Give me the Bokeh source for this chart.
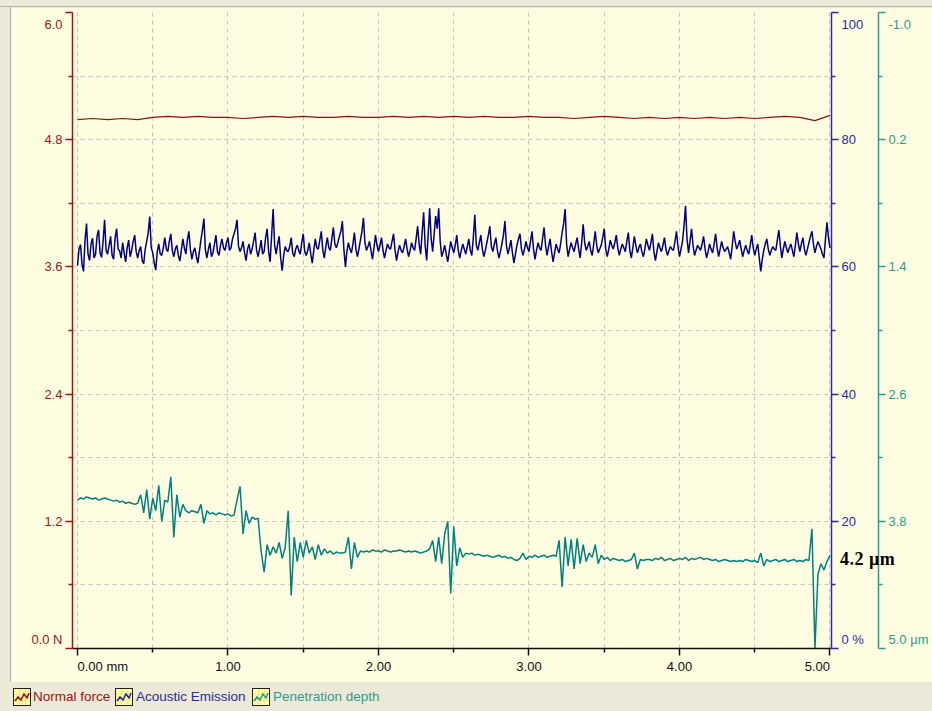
import numpy as np
from bokeh.plotting import figure
from bokeh.models import Range1d, LinearAxis, FixedTicker, PrintfTickFormatter, Div, Grid
from bokeh.layouts import column, row
from bokeh.embed import file_html
from bokeh.resources import INLINE

# ---------------- data ----------------
# Normal force [N], sampled every 0.1 mm over 0..5 mm
normal_force = [
    4.99, 5.00, 4.99, 5.00, 4.99, 5.01, 5.02, 5.01, 5.02, 5.01,
    5.01, 5.00, 5.01, 5.02, 5.01, 5.02, 5.01, 5.01, 5.02, 5.01,
    5.01, 5.02, 5.01, 5.02, 5.01, 5.02, 5.01, 5.02, 5.01, 5.01,
    5.02, 5.01, 5.01, 5.00, 5.01, 5.02, 5.01, 5.00, 5.01, 5.00,
    5.01, 5.00, 5.01, 5.00, 5.01, 5.00, 5.01, 5.02, 5.01, 4.98, 5.03,
]
# Acoustic emission [%], sampled every 0.01 mm
acoustic_emission = [
    60.2, 62.8, 63.5, 60.4, 59.3, 64.2, 66.8, 62.0, 61.0, 63.6, 64.5, 61.4, 62.0, 64.8, 65.8, 62.2, 61.5, 64.0, 67.4, 62.6,
    62.0, 63.4, 64.8, 61.8, 61.2, 64.6, 66.0, 62.8, 62.5, 61.4, 63.8, 62.2, 60.8, 63.0, 64.2, 61.6, 62.6, 64.0, 65.0, 62.4,
    61.4, 62.6, 63.2, 61.0, 60.5, 62.8, 64.0, 65.4, 67.9, 63.0, 62.2, 60.6, 59.5, 62.4, 63.6, 62.0, 61.8, 63.0, 64.6, 62.8,
    62.4, 64.0, 65.2, 62.6, 61.6, 62.8, 63.4, 61.8, 60.9, 62.6, 64.4, 63.0, 62.0, 64.2, 65.6, 62.8, 61.2, 62.4, 63.0, 61.6,
    60.6, 62.4, 64.2, 65.8, 67.6, 62.6, 61.4, 62.8, 63.8, 61.6, 62.2, 63.6, 65.0, 62.4, 61.8, 63.4, 64.4, 63.0, 62.6, 63.8,
    64.6, 62.6, 63.0, 64.4, 65.2, 66.0, 67.4, 63.2, 62.4, 63.0, 64.0, 62.2, 61.0, 62.8, 63.6, 62.0, 62.8, 64.0, 65.4, 62.6,
    61.6, 62.8, 64.2, 62.0, 62.4, 64.6, 66.0, 62.4, 60.8, 65.0, 69.1, 63.4, 62.0, 63.6, 64.8, 61.4, 59.4, 61.8, 63.2, 62.6,
    62.4, 63.2, 64.6, 62.2, 61.6, 62.8, 63.4, 62.6, 62.0, 63.8, 65.2, 62.4, 61.8, 62.6, 63.8, 62.0, 60.6, 62.6, 64.4, 63.0,
    62.8, 64.2, 65.6, 62.6, 61.4, 63.2, 64.6, 63.0, 62.6, 64.4, 66.2, 63.6, 63.0, 63.8, 64.8, 65.6, 67.2, 62.8, 60.0, 62.4,
    63.8, 62.8, 62.2, 63.6, 65.4, 62.8, 61.6, 62.8, 64.2, 65.6, 67.7, 63.8, 62.6, 63.2, 64.0, 62.6, 61.2, 63.0, 65.0, 63.4,
    62.4, 63.4, 64.6, 62.6, 61.4, 62.6, 63.6, 63.0, 62.8, 64.0, 65.2, 62.6, 61.0, 62.4, 63.4, 62.6, 62.2, 63.2, 64.4, 62.8,
    61.6, 62.6, 63.8, 63.0, 62.6, 64.4, 66.4, 63.6, 62.0, 65.4, 68.6, 63.4, 61.0, 65.0, 69.2, 64.4, 62.4, 65.2, 68.0, 66.0,
    69.2, 64.0, 61.6, 62.4, 63.4, 62.0, 60.8, 62.4, 64.0, 63.0, 62.2, 63.4, 65.0, 62.6, 61.4, 62.6, 63.6, 62.8, 62.0, 63.2,
    64.4, 62.6, 61.8, 64.6, 68.2, 63.4, 62.6, 63.8, 65.0, 62.8, 61.6, 62.6, 63.8, 65.0, 66.4, 63.2, 62.4, 63.6, 64.6, 62.6,
    61.4, 62.4, 63.6, 65.0, 67.2, 63.4, 62.0, 63.0, 64.2, 62.2, 60.6, 62.0, 63.4, 64.4, 65.2, 62.8, 61.8, 62.8, 64.0, 63.0,
    62.4, 64.0, 65.6, 62.8, 61.2, 62.6, 63.8, 63.0, 62.6, 64.4, 66.2, 63.4, 61.8, 63.2, 64.4, 62.4, 60.8, 62.2, 63.6, 62.8,
    62.2, 63.6, 65.4, 66.8, 69.1, 63.6, 61.6, 62.8, 63.8, 63.0, 62.4, 63.6, 64.6, 62.8, 61.4, 63.8, 66.7, 63.8, 62.6, 63.2,
    64.0, 62.6, 61.8, 63.6, 65.6, 63.4, 62.2, 62.8, 63.4, 64.6, 66.0, 62.8, 61.6, 62.8, 64.2, 63.4, 62.8, 63.8, 65.0, 63.0,
    61.8, 62.8, 63.6, 63.0, 62.4, 64.0, 65.4, 62.6, 61.4, 63.0, 64.8, 63.4, 62.2, 63.0, 63.6, 62.4, 61.6, 62.8, 64.4, 63.4,
    62.6, 63.8, 65.2, 62.4, 61.0, 62.4, 63.8, 63.0, 62.4, 63.4, 64.6, 62.8, 61.8, 62.6, 63.2, 62.8, 62.6, 64.0, 65.6, 63.2,
    61.6, 62.8, 64.0, 66.4, 69.6, 64.4, 62.2, 64.0, 66.0, 63.4, 61.8, 62.6, 63.4, 63.0, 62.6, 63.6, 64.8, 62.8, 61.4, 62.4,
    63.6, 62.8, 62.2, 63.6, 65.2, 63.0, 61.6, 62.8, 64.0, 63.0, 62.4, 62.8, 63.2, 62.2, 61.2, 63.2, 65.6, 64.0, 62.8, 63.4,
    64.2, 62.8, 61.6, 62.6, 63.4, 62.6, 62.0, 63.4, 65.0, 63.0, 61.8, 62.8, 63.6, 61.4, 59.3, 61.2, 62.6, 63.6, 64.4, 62.8,
    61.8, 62.6, 63.2, 62.8, 62.6, 64.2, 65.8, 63.4, 61.4, 62.8, 64.0, 63.0, 62.2, 63.0, 63.6, 62.6, 61.6, 63.4, 65.4, 63.6,
    62.4, 63.6, 64.6, 62.8, 61.8, 62.8, 63.8, 64.8, 65.6, 63.6, 62.2, 63.2, 64.0, 63.4, 62.8, 62.0, 61.4, 64.4, 67.0, 64.6,
    63.0,
]
# Penetration depth [um], sampled every 0.02 mm
penetration_depth = [
    3.60, 3.58, 3.59, 3.57, 3.58, 3.59, 3.58, 3.60, 3.59, 3.58,
    3.59, 3.60, 3.61, 3.60, 3.62, 3.61, 3.63, 3.62, 3.63, 3.64,
    3.63, 3.55, 3.72, 3.50, 3.78, 3.58, 3.70, 3.46, 3.80, 3.60,
    3.62, 3.38, 3.95, 3.55, 3.76, 3.64, 3.70, 3.72, 3.70, 3.71,
    3.72, 3.64, 3.82, 3.70, 3.73, 3.72, 3.74, 3.72, 3.73, 3.74,
    3.73, 3.75, 3.74, 3.60, 3.47, 3.92, 3.70, 3.82, 3.76, 3.78,
    3.77, 4.08, 4.28, 4.02, 4.12, 4.04, 4.10, 4.00, 4.15, 4.05,
    3.70, 4.50, 3.95, 4.18, 4.00, 4.14, 3.98, 4.10, 4.04, 4.16,
    4.02, 4.12, 4.06, 4.10, 4.08, 4.11, 4.09, 4.10, 4.10, 4.09,
    3.95, 4.25, 4.00, 4.14, 4.08, 4.09, 4.08, 4.09, 4.07, 4.08,
    4.08, 4.09, 4.07, 4.08, 4.09, 4.08, 4.08, 4.07, 4.08, 4.09,
    4.08, 4.09, 4.08, 4.09, 4.10, 4.09, 4.08, 4.06, 3.98, 4.18,
    3.95, 4.20, 3.92, 3.80, 4.48, 3.85, 4.22, 4.05, 4.14, 4.10,
    4.11, 4.10, 4.12, 4.11, 4.12, 4.13, 4.12, 4.13, 4.14, 4.13,
    4.12, 4.14, 4.13, 4.15, 4.14, 4.16, 4.17, 4.15, 4.10, 4.16,
    4.13, 4.14, 4.12, 4.14, 4.13, 4.12, 4.14, 4.13, 4.12, 4.13,
    3.98, 4.42, 3.95, 4.22, 3.97, 4.25, 3.96, 4.20, 4.02, 4.18,
    4.10, 4.14, 4.02, 4.20, 4.12, 4.16, 4.14, 4.17, 4.15, 4.16,
    4.17, 4.16, 4.18, 4.17, 4.16, 4.10, 4.25, 4.16, 4.17, 4.16,
    4.16, 4.17, 4.15, 4.16, 4.14, 4.17, 4.16, 4.15, 4.17, 4.16,
    4.15, 4.16, 4.14, 4.17, 4.15, 4.16, 4.15, 4.14, 4.16, 4.15,
    4.16, 4.17, 4.16, 4.18, 4.17, 4.16, 4.17, 4.18, 4.17, 4.18,
    4.17, 4.18, 4.16, 4.17, 4.18, 4.17, 4.19, 4.10, 4.22, 4.16,
    4.18, 4.17, 4.16, 4.18, 4.17, 4.16, 4.18, 4.17, 4.16, 4.18,
    4.17, 4.18, 4.16, 4.17, 3.87, 5.00, 4.30, 4.20, 4.26, 4.18,
    4.12,
]
x_ticks = [0, 1, 2, 3, 4, 5]
x_minor = [0.5, 1.5, 2.5, 3.5, 4.5]
force_ticks = [0.0, 1.2, 2.4, 3.6, 4.8, 6.0]
force_minor = [0.6, 1.8, 3.0, 4.2, 5.4]
ae_ticks = [0, 20, 40, 60, 80, 100]
ae_minor = [10, 30, 50, 70, 90]
depth_ticks = [-1.0, 0.2, 1.4, 2.6, 3.8, 5.0]
depth_minor = [-0.4, 0.8, 2.0, 3.2, 4.4]
series_names = ["Normal force", "Acoustic Emission", "Penetration depth"]
final_depth_text = "4.2 \u00b5m"

# ---------------- styling ----------------
BG = "#FEFDE1"
GRAY = "#ECE9D8"
C_FORCE, C_FORCE_AX = "#8E1010", "#A01414"
C_AE, C_AE_AX = "#000080", "#2B2B9C"
C_DEPTH, C_DEPTH_AX = "#008080", "#2E9C8C"
FONT = "Liberation Sans"
NB = "\u00a0"

p = figure(width=921, height=675, output_backend="svg", toolbar_location=None,
           x_range=Range1d(-0.0332, 5.0100), y_range=Range1d(0, 6),
           x_axis_type=None, y_axis_type=None,
           min_border_left=61, min_border_right=101, min_border_top=5, min_border_bottom=34,
           background_fill_color=BG, border_fill_color=BG, outline_line_color=None)
p.extra_y_ranges = {"ae": Range1d(0, 100), "depth": Range1d(5.0, -1.0)}

grid_kw = dict(grid_line_color="#C4C4C4", grid_line_dash="4 4", grid_line_width=1)
p.add_layout(Grid(dimension=0, ticker=FixedTicker(ticks=sorted(x_ticks + x_minor)), **grid_kw))
p.add_layout(Grid(dimension=1, ticker=FixedTicker(ticks=sorted(force_ticks + force_minor)), **grid_kw))


def style(ax, color, label_color, lh=1.2):
    ax.axis_line_color = color
    ax.axis_line_width = 1.5
    ax.major_tick_line_color = color
    ax.major_tick_line_width = 1.5
    ax.minor_tick_line_color = color
    ax.minor_tick_line_width = 1.5
    ax.major_tick_in = 0
    ax.major_tick_out = 7
    ax.minor_tick_in = 0
    ax.minor_tick_out = 4
    ax.major_label_text_color = label_color
    ax.major_label_text_font = FONT
    ax.major_label_text_font_size = "13px"
    ax.major_label_text_line_height = lh
    ax.major_label_standoff = 3


def bottom_lbl(s):
    return s + "\n" + NB + "\n" + NB


def top_lbl(s):
    return NB + "\n" + s


xaxis = LinearAxis(ticker=FixedTicker(ticks=x_ticks, minor_ticks=x_minor),
                   formatter=PrintfTickFormatter(format="%.2f"),
                   major_label_overrides={0: NB * 14 + "0.00 mm", 5: "5.00" + NB * 7})
style(xaxis, "#101010", "#101010")
p.add_layout(xaxis, "below")

yaxis = LinearAxis(ticker=FixedTicker(ticks=force_ticks, minor_ticks=force_minor),
                   formatter=PrintfTickFormatter(format="%.1f"),
                   major_label_overrides={0.0: bottom_lbl("0.0 N"), 6.0: top_lbl("6.0")})
style(yaxis, C_FORCE_AX, C_FORCE_AX, 0.6)
p.add_layout(yaxis, "left")

ae_axis = LinearAxis(y_range_name="ae", ticker=FixedTicker(ticks=ae_ticks, minor_ticks=ae_minor),
                     formatter=PrintfTickFormatter(format="%d"),
                     major_label_overrides={0: bottom_lbl("0 %"), 100: top_lbl("100")},
                     axis_label=NB, axis_label_standoff=4, axis_label_text_font_size="4px")
style(ae_axis, C_AE_AX, C_AE_AX, 0.6)
p.add_layout(ae_axis, "right")

depth_axis = LinearAxis(y_range_name="depth", ticker=FixedTicker(ticks=depth_ticks, minor_ticks=depth_minor),
                        formatter=PrintfTickFormatter(format="%.1f"),
                        major_label_overrides={5.0: bottom_lbl("5.0 \u00b5m"), -1.0: top_lbl("-1.0")})
style(depth_axis, C_DEPTH_AX, C_DEPTH_AX, 0.6)
p.add_layout(depth_axis, "right")

fx = np.linspace(0, 5, len(normal_force))
ax_ = np.linspace(0, 5, len(acoustic_emission))
dx = np.linspace(0, 5, len(penetration_depth))
p.line(fx, normal_force, line_color=C_FORCE, line_width=1.2)
p.line(ax_, acoustic_emission, y_range_name="ae", line_color=C_AE, line_width=1.5)
p.line(dx, penetration_depth, y_range_name="depth", line_color=C_DEPTH, line_width=1.5)


def icon(color):
    return (f'<svg width="18" height="18" viewBox="0 0 18 18" style="position:absolute;top:0;left:0">'
            f'<rect x="0.5" y="0.5" width="17" height="17" fill="#FFFF9C" stroke="#202020"/>'
            f'<path d="M1 6.5H17M1 12.5H17M6.5 1V17M12.5 1V17" stroke="#D8D890" stroke-dasharray="1 1"/>'
            f'<polyline points="2,13 5,9 8,12 11,6 14,10 16,5" fill="none" stroke="{color}" stroke-width="1.6"/>'
            f'</svg>')


items = [(13, 33, C_FORCE_AX, series_names[0]), (115, 136, C_AE_AX, series_names[1]),
         (252, 273, C_DEPTH_AX, series_names[2])]
parts = []
for ix, tx, col, name in items:
    parts.append(f'<div style="position:absolute;left:{ix}px;top:6px;width:18px;height:18px">{icon(col)}</div>')
    parts.append(f'<span style="position:absolute;left:{tx}px;top:7px;color:{col};white-space:nowrap">{name}</span>')
legend_html = (f'<div style="position:relative;width:932px;height:29px;font-family:\'{FONT}\',Arial,sans-serif;'
               f'font-size:13.5px;line-height:16px">' + "".join(parts) + '</div>')

top_band = Div(text="", width=932, height=7, margin=0,
               styles={"background": f"linear-gradient(to bottom, {GRAY} 0px, {GRAY} 6px, #B4B4AC 6px, #B4B4AC 7px)"})
left_band = Div(text="", width=11, height=675, margin=0,
                styles={"background": f"linear-gradient(to right, {GRAY} 0px, {GRAY} 10px, #B4B4AC 10px, #B4B4AC 11px)"})
legend_band = Div(text=legend_html, width=932, height=29, margin=0, styles={"background-color": GRAY})

# final penetration depth, written to the right of the frame (outside the plot area)
depth_note = Div(text=final_depth_text, width=70, height=22, margin=0,
                 styles={"position": "absolute", "left": "840px", "top": "549px", "z-index": "10",
                         "font-family": "'Liberation Serif', 'Times New Roman', serif", "font-weight": "bold",
                         "font-size": "18px", "line-height": "20px", "color": "#000000",
                         "white-space": "nowrap", "letter-spacing": "0.5px"})

layout = column(top_band, row(left_band, p, margin=0), legend_band, depth_note, margin=0,
                styles={"background-color": GRAY, "position": "relative"})

html = file_html(layout, INLINE)
html = html.replace("<head>", "<head><style>html,body{margin:0;padding:0;overflow:hidden;}</style>", 1)
open("out.html", "w").write(html)
